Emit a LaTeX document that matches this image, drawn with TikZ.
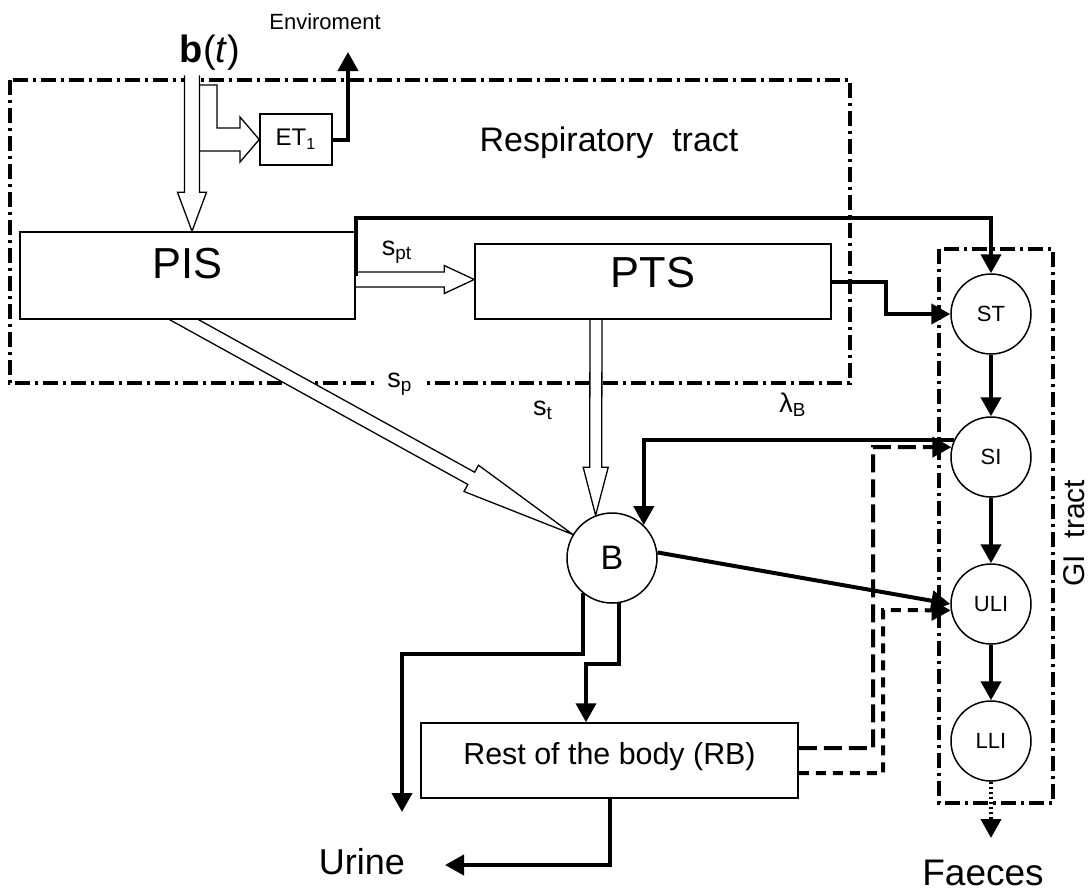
\documentclass[tikz,border=0pt]{standalone}
\usepackage{fontspec}
\setmainfont{Liberation Sans}
\usepackage{tikz}
\usetikzlibrary{arrows.meta,calc,backgrounds}

\newcommand{\sizept}[1]{\fontsize{#1}{#1}\selectfont}
% wide open arrow: start, end, half shaft, half head, head length
\newcommand{\hollowarrow}[5]{%
  \coordinate (ha-s) at #1;
  \coordinate (ha-e) at #2;
  \coordinate (ha-b) at ($(ha-e)!#5!(ha-s)$);
  \filldraw[hollow] ($(ha-s)!#3!90:(ha-e)$) -- ($(ha-b)!#3!-90:(ha-s)$) -- ($(ha-b)!#4!-90:(ha-s)$)
    -- (ha-e) -- ($(ha-b)!#4!90:(ha-s)$) -- ($(ha-b)!#3!90:(ha-s)$) -- ($(ha-s)!#3!-90:(ha-e)$);
}

\tikzset{
  box/.style={draw, line width=0.75pt, fill=white, inner sep=0pt},
  comp/.style={circle, draw, line width=0.75pt, fill=white, minimum size=40pt, inner sep=0pt, font=\sizept{11}},
  flow/.style={line width=2pt, -{Triangle[length=9.5pt,width=10pt]}},
  longdash/.style={flow, dash pattern=on 9pt off 3.5pt},
  shortdash/.style={flow, dash pattern=on 5pt off 3.5pt},
  dotflow/.style={flow, dash pattern=on 1pt off 1.5pt},
  tractframe/.style={line width=1.7pt, dash pattern=on 7.5pt off 2.5pt on 1.5pt off 2.5pt},
  hollow/.style={line width=0.65pt, fill=white},
  hollowline/.style={line width=0.65pt},
  lbl/.style={inner sep=1pt, font=\sizept{13.5}}
}

\begin{document}
\begin{tikzpicture}[x=0.5pt,y=-0.5pt]
    \useasboundingbox (0,0) rectangle (1088,891);
    % compartments
    \node[box, minimum width=167.5pt, minimum height=43.5pt, text depth=12.5pt, font=\sizept{21.7}] (PIS) at (187.5,275.5) {PIS};
    \node[box, minimum width=178pt, minimum height=37.5pt, text depth=9.5pt, font=\sizept{21.7}] (PTS) at (653,281.5) {PTS};
    \node[box, minimum width=36pt, minimum height=25.5pt, font=\sizept{12}] (ET1) at (296,139.5) {ET\textsubscript{1}};
    \node[box, minimum width=188.5pt, minimum height=37.5pt, text depth=7.5pt, font=\sizept{15.2}] (RB) at (609.5,760.5) {Rest of the body (RB)};
    \node[comp, minimum size=45pt, font=\sizept{17}] (B) at (612,558) {B};
    \node[comp] (ST) at (991,314) {ST};
    \node[comp] (SI) at (991,457) {SI};
    \node[comp] (ULI) at (991,604) {ULI};
    \node[comp] (LLI) at (991,741) {LLI};
    % texts
    \node[font=\sizept{11}] (env) at (325,22) {Enviroment};
    \node[font=\sizept{19}] (bt) at (210,53) {\textbf{b}(\textit{t})};
    \node[font=\sizept{17}] (resp) at (609,143) {Respiratory\ \ tract};
    \node[rotate=90, inner sep=0pt, font=\sizept{15}] (gi) at (1074,533) {GI\ \ tract};
    \node[font=\sizept{18}] (urine) at (362,862) {Urine};
    \node[font=\sizept{18.5}] (faeces) at (983,873) {Faeces};
    \node[lbl] (spt) at (397,252) {s\textsubscript{pt}};
    \node[lbl, fill=white, minimum width=26pt] (sp) at (400,384) {s\textsubscript{p}};
    \node[lbl] (st) at (543,410) {s\textsubscript{t}};
    \node[lbl] (lamb) at (793,405) {λ\textsubscript{B}};
    \coordinate (envtip) at (348,52);
    \coordinate (topbus) at (991,218);
    \coordinate (rbsi) at (873,447);
    \coordinate (rbuli) at (883,610);
    \coordinate (urinetip) at (402,812);
    \coordinate (urinein) at (445,865);
    \coordinate (faecestip) at (991,838);
    \begin{scope}[on background layer]
        \draw[tractframe] (10,80) rectangle (850,383);
        \draw[tractframe] (939,249) rectangle (1053,803);
        \hollowarrow{($(PIS.north)+(4.5,-156)$)}{($(PIS.north)+(4.5,0)$)}{3.75pt}{7.25pt}{19.5pt}
        \hollowarrow{($(PIS.east)+(0,4)$)}{($(PTS.west)+(0,-2)$)}{3.75pt}{7pt}{15pt}
        \hollowarrow{($(PTS.south)+(-57,0)$)}{(B.111)}{3pt}{6.25pt}{24pt}
        \hollowarrow{($(PIS.south)+(-25,-12)$)}{(B.149)}{3.5pt}{7.5pt}{58pt}
    \end{scope}
    \draw[hollowline] (200,85) -- (217,85) -- (217,128) -- (240,128) -- (240,117) -- (ET1.west)
        -- (240,162) -- (240,151) -- (200,151);
    % thick flows
    \draw[flow] (ET1.east) -| (envtip);
    \draw[flow] (PIS.east) |- (topbus) -- (ST.north);
    \draw[flow] (PTS.east) -- ++(54,0) |- (ST.west);
    \draw[flow] (ST) -- (SI);
    \draw[flow] (SI) -- (ULI);
    \draw[flow] (ULI) -- (LLI);
    \draw[dotflow] (LLI) -- (faecestip);
    \draw[flow] (SI.155) -| (B.46.5);
    \draw[flow] (B.7) -- (ULI.west);
    \draw[flow] (B.230) -- ++(0,61) -| (urinetip);
    \draw[flow] (B.279) -- ++(0,61) -| ($(RB.north)+(-23.5,0)$);
    \draw[flow] (RB.south) |- (urinein);
    \draw[longdash] ($(RB.east)+(0,-12.5)$) -| (rbsi) -- (SI.166);
    \draw[shortdash] ($(RB.east)+(0,12.5)$) -| (rbuli) -- (ULI.189);
\end{tikzpicture}
\end{document}
